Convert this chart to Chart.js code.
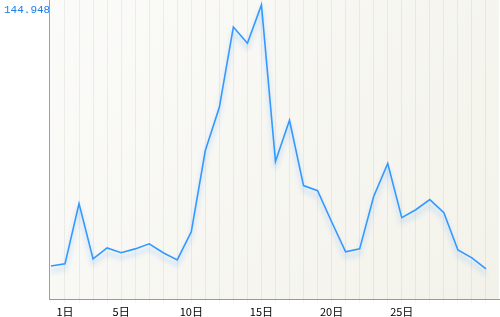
<!DOCTYPE html>
<html lang="ja">
<head>
  <meta charset="UTF-8" />
  <title>日別推移</title>
  <script src="https://cdn.jsdelivr.net/npm/chart.js"></script>
  <style>
    html, body { margin: 0; padding: 0; background: #fff; }
    #wrap { width: 500px; height: 317px; }
  </style>
</head>
<body>
  <div id="wrap"><canvas id="dayChart" width="500" height="317"></canvas></div>

  <script>
    // 日別の値 (0 = 前月末, 1..31 = 1日..31日)
    const values = [
      16.3, 17.3, 47.0, 19.8, 25.2, 22.8, 24.7, 27.2, 22.8, 19.3,
      33.1, 73.2, 94.5, 134.1, 126.1, 144.9489, 67.8, 88.1, 55.9, 53.4,
      38.1, 23.3, 24.7, 50.5, 66.8, 40.1, 44.0, 49.0, 42.5, 24.2,
      20.3, 14.8
    ];
    const shownDays = [1, 5, 10, 15, 20, 25];
    const yTickLabels = [144.9489];

    // 背景グラデーション + 左上ラベルのはみ出しを隠す
    const plotBg = {
      id: 'plotBg',
      beforeDatasetsDraw(chart) {
        const { ctx, chartArea: a } = chart;
        ctx.save();
        ctx.clearRect(a.left + 1, 0, 10, 16);
        ctx.globalCompositeOperation = 'destination-over';
        const g = ctx.createLinearGradient(a.left, a.top, a.right, a.bottom);
        g.addColorStop(0, '#fbfbf9');
        g.addColorStop(1, '#f3f2ea');
        ctx.fillStyle = g;
        ctx.fillRect(a.left, a.top, a.right - a.left, a.bottom - a.top);
        ctx.restore();
      }
    };

    // 線の下の影
    const lineShadow = {
      id: 'lineShadow',
      beforeDatasetDraw(chart) {
        const ctx = chart.ctx;
        ctx.save();
        ctx.shadowColor = 'rgba(80,160,255,0.45)';
        ctx.shadowBlur = 5;
        ctx.shadowOffsetY = 5;
      },
      afterDatasetDraw(chart) {
        chart.ctx.restore();
      }
    };

    const noPad = s => { s.paddingTop = 0; s.paddingBottom = 0; s.paddingLeft = 0; s.paddingRight = 0; };

    new Chart(document.getElementById('dayChart'), {
      type: 'line',
      data: {
        datasets: [{
          data: values.map((v, i) => ({ x: i, y: v })),
          borderColor: '#3399ff',
          borderWidth: 1.6,
          pointRadius: 0,
          tension: 0,
          fill: false
        }]
      },
      options: {
        responsive: false,
        animation: false,
        layout: { padding: { left: 4, right: 1, top: 0, bottom: 0 } },
        plugins: { legend: { display: false }, tooltip: { enabled: false } },
        scales: {
          x: {
            type: 'linear',
            min: -0.14,
            max: 31.93,
            afterBuildTicks: s => { s.ticks = values.map((_, i) => ({ value: i })); },
            afterFit: s => { s.height = 18; noPad(s); },
            grid: {
              color: c => c.index === 0 ? 'rgba(0,0,0,0)' : 'rgba(0,0,0,0.055)',
              tickLength: 4,
              tickColor: 'rgba(0,0,0,0.04)'
            },
            border: { color: '#999', width: 1 },
            ticks: {
              autoSkip: false,
              maxRotation: 0,
              padding: 2,
              color: '#000',
              font: { family: '"Noto Sans CJK JP", sans-serif', size: 11 },
              callback: v => shownDays.includes(v) ? v + '日' : ''
            }
          },
          y: {
            min: 0,
            max: 147.4,
            afterBuildTicks: s => { s.ticks = yTickLabels.map(v => ({ value: v })); },
            afterFit: s => { s.width = 45; noPad(s); },
            grid: { display: false },
            border: { color: '#a0a0a0', width: 1 },
            ticks: {
              crossAlign: 'far',
              labelOffset: 5,
              color: '#1a7fe6',
              font: { family: '"Liberation Mono", monospace', size: 11 },
              callback: v => v.toFixed(4)
            }
          }
        }
      },
      plugins: [plotBg, lineShadow]
    });
  </script>
</body>
</html>
